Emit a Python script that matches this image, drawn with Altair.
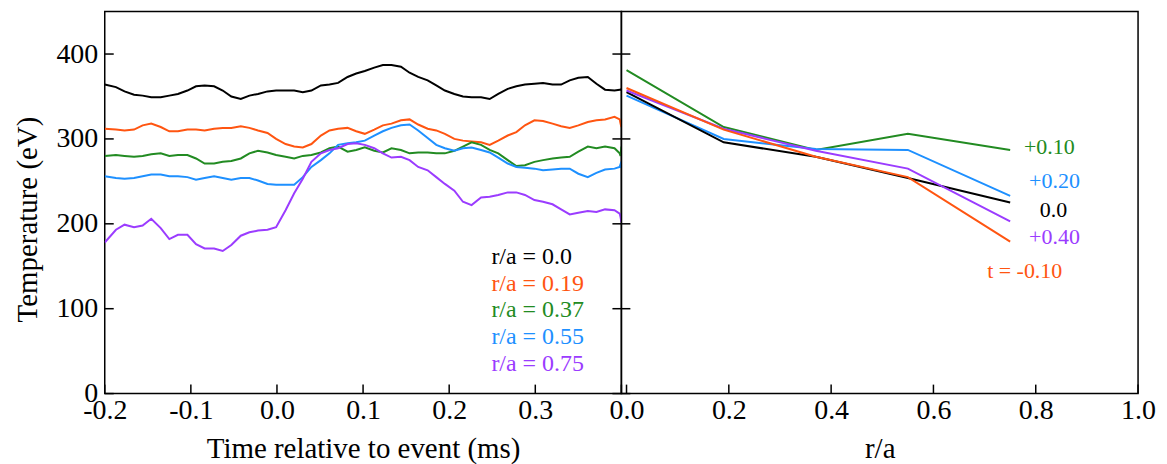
import altair as alt
import pandas as pd

FONT = "Liberation Serif"

# ---------------- left panel data (time traces) ----------------
time_ms = [-0.200, -0.187, -0.177, -0.166, -0.156, -0.146, -0.135, -0.125, -0.115, -0.104,
           -0.094, -0.084, -0.073, -0.063, -0.053, -0.042, -0.032, -0.022, -0.011, -0.001,
           0.010, 0.020, 0.030, 0.040, 0.051, 0.061, 0.071, 0.082, 0.092, 0.102,
           0.113, 0.123, 0.133, 0.144, 0.154, 0.164, 0.175, 0.185, 0.195, 0.206,
           0.216, 0.226, 0.237, 0.247, 0.257, 0.268, 0.278, 0.288, 0.299, 0.309,
           0.320, 0.330, 0.340, 0.350, 0.361, 0.371, 0.381, 0.392, 0.398, 0.399, 0.400]

te_00 = [364, 361, 356, 352, 351, 349, 349, 351, 353, 357, 362, 363, 362, 357, 350, 347, 351, 353, 356, 357, 357,
         357, 355, 357, 363, 364, 366, 373, 377, 380, 384, 387, 387, 385, 378, 373, 369, 363, 357, 353,
         350, 349, 349, 347, 353, 359, 362, 364, 365, 366, 364, 364, 369, 372, 373, 365, 358, 357, 358, 358, 359]
te_19 = [312, 311, 310, 311, 316, 318, 314, 309, 309, 311, 311, 310, 312, 313, 313, 315, 313, 310, 307, 300, 294,
         291, 290, 294, 304, 310, 312, 313, 309, 306, 311, 316, 318, 322, 323, 317, 312, 310, 306, 300,
         298, 297, 296, 293, 298, 304, 308, 316, 322, 321, 318, 315, 313, 316, 320, 322, 323, 326, 323, 318, 314]
te_37 = [280, 281, 280, 279, 280, 282, 283, 280, 281, 281, 277, 271, 271, 273, 274, 277, 283, 286, 284, 281, 279,
         277, 280, 281, 284, 289, 291, 285, 287, 290, 286, 284, 289, 287, 283, 284, 284, 283, 283, 286,
         291, 296, 293, 287, 283, 275, 268, 269, 273, 275, 277, 278, 279, 285, 291, 289, 291, 289, 283, 280, 291]
te_55 = [256, 254, 253, 254, 256, 258, 258, 256, 256, 255, 252, 254, 256, 254, 252, 254, 254, 251, 247, 246, 246,
         246, 255, 267, 275, 283, 293, 295, 296, 298, 304, 309, 313, 316, 317, 310, 301, 293, 289, 286,
         289, 290, 287, 284, 278, 271, 267, 266, 265, 263, 264, 265, 265, 259, 255, 260, 264, 265, 267, 270, 266]
te_75 = [178, 193, 199, 196, 198, 206, 195, 182, 187, 187, 176, 171, 171, 168, 175, 186, 190, 192, 193, 196, 216,
         236, 253, 273, 283, 287, 289, 294, 295, 293, 289, 283, 278, 279, 275, 267, 263, 255, 247, 239,
         226, 222, 231, 232, 234, 237, 237, 234, 228, 226, 223, 217, 211, 213, 215, 214, 217, 216, 212, 208, 202]

left_names = ["r/a = 0.0", "r/a = 0.19", "r/a = 0.37", "r/a = 0.55", "r/a = 0.75"]
left_colors = ["#000000", "#ff5511", "#228b22", "#1e90ff", "#9b3cff"]
left_label_t = [0.249, 0.249, 0.249, 0.249, 0.249]
left_label_T = [161, 129, 99, 67, 35]

# ---------------- right panel data (profiles) ----------------
r_over_a = [0.0, 0.19, 0.37, 0.55, 0.75]
prof_p010 = [381, 314, 287, 306, 287]
prof_p020 = [351, 300, 288, 287, 233]
prof_000 = [355, 296, 279, 254, 225]
prof_p040 = [357, 312, 286, 265, 203]
prof_m010 = [360, 311, 279, 255, 179]

right_names = ["+0.10", "+0.20", "0.0", "+0.40", "t = -0.10"]
right_colors = ["#228b22", "#1e90ff", "#000000", "#9b3cff", "#ff5511"]
right_label_r = [0.777, 0.787, 0.808, 0.787, 0.705]
right_label_T = [291, 250, 216, 184, 144]

# axis tick values
xticksL = [-0.2, -0.1, 0.0, 0.1, 0.2, 0.3, 0.4]
xlabL = [-0.2, -0.1, 0.0, 0.1, 0.2, 0.3]
xticksR = [0.0, 0.2, 0.4, 0.6, 0.8, 1.0]
yticks = [0, 100, 200, 300, 400]

# ---------------- tables ----------------
rows = []
for name, col, vals in zip(left_names, left_colors, [te_00, te_19, te_37, te_55, te_75]):
    for t, v in zip(time_ms, vals):
        rows.append({"t": t, "T": v, "s": name, "c": col})
df_left = pd.DataFrame(rows)
df_left_lab = pd.DataFrame({"t": left_label_t, "T": left_label_T,
                            "txt": left_names, "c": left_colors})

rows = []
for name, col, vals in zip(right_names, right_colors,
                           [prof_p010, prof_p020, prof_000, prof_p040, prof_m010]):
    for r, v in zip(r_over_a, vals):
        rows.append({"r": r, "T": v, "s": name, "c": col})
df_right = pd.DataFrame(rows)
df_right_lab = pd.DataFrame({"r": right_label_r, "T": right_label_T,
                             "txt": right_names, "c": right_colors})

df_yt = pd.DataFrame({"v": yticks})
df_xtL = pd.DataFrame({"v": xticksL})
df_xtR = pd.DataFrame({"v": xticksR})

W1, W2, H = 518, 518, 383
TICK = 9
TICKW = 1.5
LBL = 28
TTL = 29

minus_expr = "datum.value < 0 ? '-' + format(abs(datum.value), '.1f') : format(datum.value, '.1f')"

xL = alt.Scale(domain=[-0.2, 0.4], nice=False, zero=False)
xR = alt.Scale(domain=[-0.01, 1.0], nice=False, zero=False)
yS = alt.Scale(domain=[0, 450], nice=False, zero=False)

# ---- left panel ----
left_lines = alt.Chart(df_left).mark_line(strokeWidth=2, clip=True).encode(
    x=alt.X("t:Q", scale=xL, axis=alt.Axis(
        title="Time relative to event (ms)", values=xlabL, labelExpr=minus_expr,
        ticks=False, domain=False, grid=False, labelFlush=False,
        labelPadding=3, titlePadding=10,
        labelFont=FONT, labelFontSize=LBL, labelColor="black",
        titleFont=FONT, titleFontSize=TTL, titleFontWeight="normal", titleColor="black")),
    y=alt.Y("T:Q", scale=yS, axis=alt.Axis(
        title="Temperature (eV)", values=yticks, ticks=False, domain=False, grid=False,
        labelFlush=False, labelPadding=7, titlePadding=13, titleY=208,
        labelFont=FONT, labelFontSize=LBL, labelColor="black",
        titleFont=FONT, titleFontSize=TTL, titleFontWeight="normal", titleColor="black")),
    color=alt.Color("c:N", scale=None),
    detail="s:N",
)
left_yt_in = alt.Chart(df_yt).mark_rule(color="black", strokeWidth=TICKW).encode(
    y=alt.Y("v:Q", scale=yS, axis=None), x=alt.value(0), x2=alt.value(TICK))
left_yt_right = alt.Chart(df_yt).mark_rule(color="black", strokeWidth=TICKW).encode(
    y=alt.Y("v:Q", scale=yS, axis=None), x=alt.value(W1 - TICK), x2=alt.value(W1))
left_xt = alt.Chart(df_xtL).mark_rule(color="black", strokeWidth=TICKW).encode(
    x=alt.X("v:Q", scale=xL, axis=None), y=alt.value(H - TICK), y2=alt.value(H))
left_text = alt.Chart(df_left_lab).mark_text(
    align="left", baseline="middle", font=FONT, fontSize=24).encode(
    x=alt.X("t:Q", scale=xL, axis=None),
    y=alt.Y("T:Q", scale=yS, axis=None),
    text="txt:N",
    color=alt.Color("c:N", scale=None),
)
left = alt.layer(left_lines, left_yt_in, left_yt_right, left_xt, left_text).resolve_scale(
    x="independent", y="independent").properties(width=W1, height=H)

# ---- right panel ----
right_lines = alt.Chart(df_right).mark_line(strokeWidth=2, clip=True).encode(
    x=alt.X("r:Q", scale=xR, axis=alt.Axis(
        title="r/a", values=xticksR, format=".1f",
        ticks=False, domain=False, grid=False, labelFlush=False,
        labelPadding=3, titlePadding=10,
        labelFont=FONT, labelFontSize=LBL, labelColor="black",
        titleFont=FONT, titleFontSize=TTL, titleFontWeight="normal", titleColor="black")),
    y=alt.Y("T:Q", scale=yS, axis=None),
    color=alt.Color("c:N", scale=None),
    detail="s:N",
)
right_yt_in = alt.Chart(df_yt).mark_rule(color="black", strokeWidth=TICKW).encode(
    y=alt.Y("v:Q", scale=yS, axis=None), x=alt.value(0), x2=alt.value(TICK))
right_xt = alt.Chart(df_xtR).mark_rule(color="black", strokeWidth=TICKW).encode(
    x=alt.X("v:Q", scale=xR, axis=None), y=alt.value(H - TICK), y2=alt.value(H))
right_text = alt.Chart(df_right_lab).mark_text(
    align="left", baseline="middle", font=FONT, fontSize=22).encode(
    x=alt.X("r:Q", scale=xR, axis=None),
    y=alt.Y("T:Q", scale=yS, axis=None),
    text="txt:N",
    color=alt.Color("c:N", scale=None),
)
right = alt.layer(right_lines, right_yt_in, right_xt, right_text).resolve_scale(
    x="independent", y="independent").properties(width=W2, height=H)

chart = alt.hconcat(left, right, spacing=0, bounds="flush").resolve_scale(
    color="independent").properties(
    padding={"left": 5, "top": 2, "right": 2, "bottom": 2},
    background="white",
).configure_view(stroke="black", strokeWidth=1.5)

chart.save("out.html", embed_options={"renderer": "svg", "actions": False})
